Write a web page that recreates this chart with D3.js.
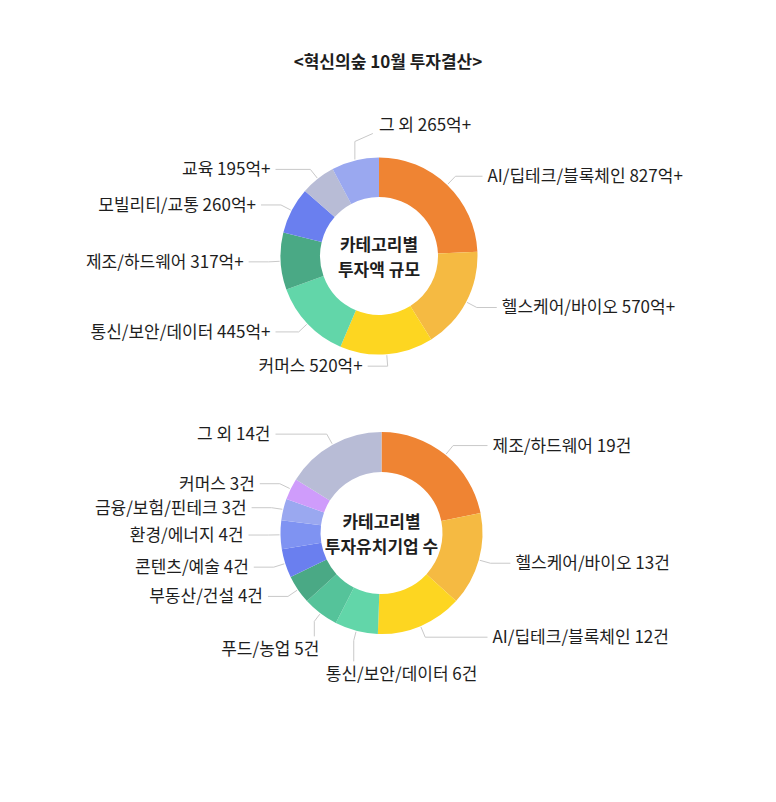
<!DOCTYPE html>
<html>
<head>
<meta charset="utf-8">
<script src="https://cdn.jsdelivr.net/npm/d3@7"></script>
<style>
  body { margin: 0; background: #fff; }
  text { font-family: "Noto Sans CJK KR", "Noto Sans", sans-serif; }
</style>
</head>
<body>
<div id="chart"></div>
<script>
// data
var title = "<혁신의숲 10월 투자결산>";

// 카테고리별 투자액 규모 (억)
var amountCategories = ["AI/딥테크/블록체인", "헬스케어/바이오", "커머스", "통신/보안/데이터",
                        "제조/하드웨어", "모빌리티/교통", "교육", "그 외"];
var amountValues = [827, 570, 520, 445, 317, 260, 195, 265];
var amountCenter = ["카테고리별", "투자액 규모"];

// 카테고리별 투자유치기업 수 (건)
var countCategories = ["제조/하드웨어", "헬스케어/바이오", "AI/딥테크/블록체인", "통신/보안/데이터",
                       "푸드/농업", "부동산/건설", "콘텐츠/예술", "환경/에너지",
                       "금융/보험/핀테크", "커머스", "그 외"];
var countValues = [19, 13, 12, 6, 5, 4, 4, 4, 3, 3, 14];
var countCenter = ["카테고리별", "투자유치기업 수"];

// colours
var orange = "#ef8433", lightOrange = "#f5ba42", yellow = "#fdd621", mint = "#62d6a9",
    midGreen = "#55c39a", darkGreen = "#4aa985", blue = "#6a7fef", lightBlue = "#7f93f2",
    periwinkle = "#9aa8f0", purple = "#cf9cfb", grey = "#b8bcd6";
var amountColors = [orange, lightOrange, yellow, mint, darkGreen, blue, grey, periwinkle];
var countColors = [orange, lightOrange, yellow, mint, midGreen, darkGreen, blue, lightBlue, periwinkle, purple, grey];

var width = 776, height = 802, fontSize = 17, ink = "#1e1e1e";

var svg = d3.select("#chart")
  .append("svg")
    .attr("width", width)
    .attr("height", height);

svg.append("text")
  .attr("x", width / 2)
  .attr("y", 62)
  .attr("dy", "0.35em")
  .attr("text-anchor", "middle")
  .attr("font-size", fontSize)
  .attr("font-weight", 700)
  .attr("fill", ink)
  .text(title);

function pt(a, r) {
  return [Math.sin(a) * r, -Math.cos(a) * r];
}

// spread labels of one group so they don't sit on each other
function relax(group, gap) {
  group.sort(function(a, b) { return a.y - b.y; });
  for (var i = 1; i < group.length; i++) {
    if (group[i].y - group[i - 1].y < gap) group[i].y = group[i - 1].y + gap;
  }
}

function drawDonut(cats, vals, colors, unit, centerText, cx, cy, outer, inner) {
  var data = cats.map(function(c, i) { return {name: c, value: vals[i]}; });
  var g = svg.append("g").attr("transform", "translate(" + cx + "," + cy + ")");

  var pie = d3.pie().sort(null).value(function(d) { return d.value; });
  var arcs = pie(data);
  var arc = d3.arc().innerRadius(inner).outerRadius(outer);

  g.selectAll("path.slice")
    .data(arcs)
    .enter()
    .append("path")
      .attr("class", "slice")
      .attr("d", arc)
      .attr("fill", function(d, i) { return colors[i]; });

  // label layout
  var labels = arcs.map(function(d) {
    var a = (d.startAngle + d.endAngle) / 2;
    var deg = a * 180 / Math.PI;
    var kind = (deg > 340 || deg < 20) ? "top"
             : (deg > 185 && deg < 225) ? "below"
             : (deg < 170 ? "right" : "left");
    var p0 = pt(a, outer + 1);
    var p1 = pt(a, kind == "below" ? outer + 10 : outer + 12);
    var y = kind == "below" ? p1[1] + 28 : p1[1];
    return {d: d, deg: deg, kind: kind, p0: p0, p1: p1, y: y,
            text: d.data.name + " " + d.data.value + unit};
  });
  relax(labels.filter(function(l) { return l.kind == "left"; }), 24);
  relax(labels.filter(function(l) { return l.kind == "right"; }), 24);
  relax(labels.filter(function(l) { return l.kind == "below"; }), 25);

  labels.forEach(function(l) {
    var pts, tx, ty, anchor;
    if (l.kind == "top") {
      pts = [l.p0, [l.p0[0], l.p0[1] - 18], [l.p0[0] + 18, l.p0[1] - 26]];
      tx = l.p0[0] + 24; ty = l.p0[1] - 34; anchor = "start";
    } else if (l.kind == "below") {
      pts = [l.p0, l.p1, [l.p1[0], l.y - 13]];
      ty = l.y;
      if (l.deg >= 200) { tx = l.p1[0] + 5; anchor = "end"; }
      else { tx = l.p1[0] - 28; anchor = "start"; }
    } else {
      var s = l.kind == "right" ? 1 : -1;
      // labels beside the ring line up on a column
      var beside = Math.abs(l.y) < outer + 10;
      tx = l.p1[0] + s * 25;
      if (beside) tx = s > 0 ? Math.max(outer + 10, tx) : Math.min(-outer - 10, tx);
      pts = [l.p0, [l.p1[0], l.y], [tx - s * 5, l.y]];
      ty = l.y; anchor = s > 0 ? "start" : "end";
    }
    g.append("path")
      .attr("d", d3.line()(pts))
      .attr("fill", "none")
      .attr("stroke", "#c9c9c9")
      .attr("stroke-width", 1);
    g.append("text")
      .attr("x", tx)
      .attr("y", ty)
      .attr("dy", "0.35em")
      .attr("text-anchor", anchor)
      .attr("font-size", fontSize)
      .attr("fill", ink)
      .text(l.text);
  });

  // centre caption
  g.selectAll("text.center")
    .data(centerText)
    .enter()
    .append("text")
      .attr("class", "center")
      .attr("x", 0)
      .attr("y", function(d, i) { return i == 0 ? -11 : 14; })
      .attr("dy", "0.35em")
      .attr("text-anchor", "middle")
      .attr("font-size", fontSize)
      .attr("font-weight", 700)
      .attr("fill", ink)
      .text(function(d) { return d; });
}

drawDonut(amountCategories, amountValues, amountColors, "억+", amountCenter, 379, 256, 98.5, 59);
drawDonut(countCategories, countValues, countColors, "건", countCenter, 381.5, 533, 101, 61);
</script>
</body>
</html>
